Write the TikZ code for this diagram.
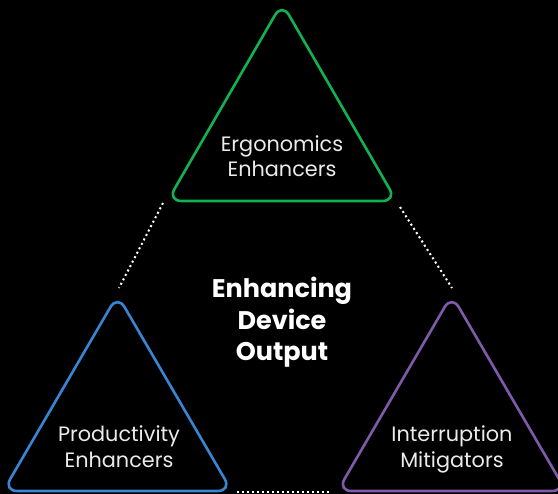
\documentclass[tikz,border=0pt]{standalone}
\usepackage{fontspec}
\setmainfont{Poppins}
\usepackage{tikz}
\usetikzlibrary{positioning}
\definecolor{ergcol}{RGB}{18,178,80}
\definecolor{prodcol}{RGB}{58,132,214}
\definecolor{intcol}{RGB}{128,90,170}

\begin{document}
\begin{tikzpicture}[x=1pt,y=-1pt,
	tri/.style={line width=2.6pt, rounded corners=14pt},
	lbl/.style={text=white!92!black, font=\fontsize{20.8}{25.5}\selectfont, align=center, anchor=base},
	link/.style={white, line width=2pt, dash pattern=on 2pt off 3pt}]
	\fill[black] (0,0) rectangle (558,494);
	\useasboundingbox (0,0) rectangle (558,494);
	\draw[tri, ergcol] (282,201) -- (396.5,201) -- (282,3) -- (167.5,201) -- cycle;
	\draw[tri, prodcol] (117.5,491) -- (231.75,491) -- (117.5,295) -- (3.25,491) -- cycle;
	\draw[tri, intcol] (451.7,491) -- (566,491) -- (451.7,295) -- (337.5,491) -- cycle;
	\node[lbl] (erg) at (282,177) {Ergonomics\\Enhancers};
	\node[lbl] (prod) at (119,467.5) {Productivity\\Enhancers};
	\node[lbl] (int) at (452,467.5) {Interruption\\Mitigators};
	\node[text=white, font=\bfseries\fontsize{25.5}{31.5}\selectfont, align=center, anchor=base] (title) at (282,361) {Enhancing\\Device\\Output};
	\coordinate (ergl) at (163,203);
	\coordinate (ergr) at (400,207);
	\coordinate (prodt) at (119,288);
	\coordinate (prodr) at (237,492);
	\coordinate (intt) at (452,288);
	\coordinate (intl) at (331,492);
	\draw[link] (ergl) -- (prodt);
	\draw[link] (ergr) -- (intt);
	\draw[link] (prodr) -- (intl);
\end{tikzpicture}
\end{document}
